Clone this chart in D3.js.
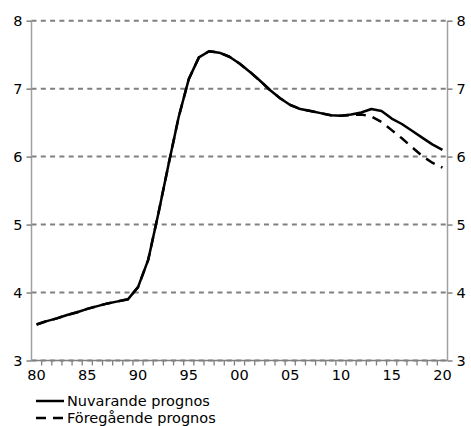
<!DOCTYPE html>
<html><head><meta charset="utf-8">
<script src="https://cdn.jsdelivr.net/npm/d3@7"></script>
<style>
html,body{margin:0;padding:0;background:#fff;}
svg{display:block;font-family:"DejaVu Sans",Verdana,sans-serif;}
</style></head>
<body><svg id="c" width="471" height="426"></svg>
<script>
const years = [1980,1981,1982,1983,1984,1985,1986,1987,1988,1989,1990,1991,1992,1993,1994,1995,1996,1997,1998,1999,2000,2001,2002,2003,2004,2005,2006,2007,2008,2009,2010,2011,2012,2013,2014,2015,2016,2017,2018,2019,2020];
const current = [3.53,3.58,3.62,3.67,3.71,3.76,3.80,3.84,3.87,3.90,4.08,4.48,5.16,5.88,6.58,7.14,7.46,7.55,7.53,7.47,7.37,7.25,7.12,6.98,6.86,6.76,6.70,6.67,6.64,6.61,6.60,6.62,6.65,6.70,6.67,6.56,6.48,6.38,6.28,6.18,6.10];
const previous = [3.53,3.58,3.62,3.67,3.71,3.76,3.80,3.84,3.87,3.90,4.08,4.48,5.16,5.88,6.58,7.14,7.46,7.55,7.53,7.47,7.37,7.25,7.12,6.98,6.86,6.76,6.70,6.67,6.64,6.61,6.60,6.61,6.62,6.59,6.51,6.39,6.27,6.14,6.01,5.91,5.84];
const yTicks = [3,4,5,6,7,8];
const labelYears = [1980,1985,1990,1995,2000,2005,2010,2015,2020];
const seriesNames = ["Nuvarande prognos","Föregående prognos"];

const svg = d3.select("#c");
const L = 31.5, R = 447.5, T = 20.7, B = 360.5;
const x = d3.scaleBand().domain(years).range([L, R]);
const y = d3.scaleLinear().domain([3,8]).range([B, T]);
const cx = d => x(d) + x.bandwidth()/2;

// gridlines
svg.append("g").selectAll("line").data(yTicks).join("line")
  .attr("x1", L).attr("x2", R).attr("y1", d=>y(d)).attr("y2", d=>y(d))
  .attr("stroke", "#808080").attr("stroke-width", 2).attr("stroke-dasharray", "5,4.3");

// axes
const axL = svg.append("g").attr("transform", `translate(${L},0)`)
  .call(d3.axisLeft(y).tickValues(yTicks).tickSize(5).tickPadding(4).tickFormat(d3.format("d")));
const axR = svg.append("g").attr("transform", `translate(${R},0)`)
  .call(d3.axisRight(y).tickValues(yTicks).tickSize(5).tickPadding(4).tickFormat(d3.format("d")));
[axL, axR].forEach(a => {
  a.select(".domain").attr("stroke", "#a0a0a0").attr("stroke-width", 1.5).attr("d", `M0,${T}V${B}`);
  a.selectAll(".tick line").attr("stroke", "#808080").attr("stroke-width", 1.5);
  a.selectAll(".tick text").attr("font-size", 14.5).attr("fill", "#000").attr("font-family", "DejaVu Sans");
});

// x axis ticks at band boundaries
const bounds = years.map(d => x(d)).concat([R]);
svg.append("g").selectAll("line").data(bounds.slice(1, -1)).join("line")
  .attr("x1", d=>d).attr("x2", d=>d).attr("y1", B).attr("y2", B+5)
  .attr("stroke", "#808080").attr("stroke-width", 1.3);
svg.append("line").attr("x1", L).attr("x2", R).attr("y1", B).attr("y2", B)
  .attr("stroke", "#808080").attr("stroke-width", 1.3);
svg.append("g").selectAll("text").data(labelYears).join("text")
  .attr("x", d=>cx(d)).attr("y", B+19).attr("text-anchor", "middle")
  .attr("font-size", 14.5).text(d => String(d).slice(2));

// lines
const line = d3.line().x((d,i)=>cx(years[i])).y(d=>y(d));
svg.append("path").datum(previous).attr("d", line).attr("fill","none")
  .attr("stroke","#000").attr("stroke-width",2.5).attr("stroke-dasharray","10,7");
svg.append("path").datum(current).attr("d", line).attr("fill","none")
  .attr("stroke","#000").attr("stroke-width",2.5).attr("stroke-linejoin","round");

// legend
const lg = svg.append("g");
const rows = [{name: seriesNames[0], dash: null, y: 401}, {name: seriesNames[1], dash: "10,7", y: 418}];
rows.forEach(r => {
  lg.append("line").attr("x1", 36).attr("x2", 64).attr("y1", r.y).attr("y2", r.y)
    .attr("stroke", "#000").attr("stroke-width", 2.5).attr("stroke-dasharray", r.dash);
  lg.append("text").attr("x", 67).attr("y", r.y + 5).attr("font-size", 14.5).text(r.name);
});
</script></body></html>
